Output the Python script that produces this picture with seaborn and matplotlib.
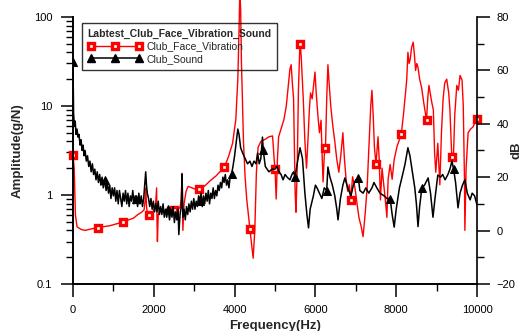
import matplotlib
matplotlib.use("Agg")
import matplotlib.pyplot as plt
from matplotlib.lines import Line2D
from matplotlib.ticker import MultipleLocator, NullFormatter
import seaborn as sns

# Club_Face_Vibration, amplitude (g/N), left log axis
red_freq = [0, 30, 60, 100, 200, 300, 400, 500, 625, 750, 900, 1050, 1250, 1400, 1500,
            1600, 1700, 1760, 1790, 1800, 1820, 1850, 1875, 1920, 1960, 2000, 2040, 2070,
            2080, 2090, 2110, 2150, 2250, 2350, 2500, 2600, 2650, 2680, 2700, 2720, 2750,
            2800, 2850, 2950, 3050, 3125, 3250, 3400, 3550, 3650, 3750, 3850, 3950, 4030,
            4080, 4110, 4130, 4150, 4170, 4190, 4220, 4260, 4300, 4350, 4375, 4420, 4460,
            4500, 4540, 4580, 4650, 4750, 4850, 4940, 4980, 5000, 5030, 5060, 5090, 5150,
            5220, 5280, 5330, 5370, 5400, 5430, 5460, 5500, 5520, 5550, 5580, 5610, 5625,
            5650, 5700, 5740, 5780, 5820, 5850, 5880, 5920, 5960, 5990, 6020, 6060, 6100,
            6140, 6170, 6190, 6220, 6250, 6280, 6310, 6340, 6380, 6430, 6480, 6530, 6580,
            6630, 6680, 6720, 6760, 6800, 6840, 6875, 6920, 6980, 7030, 7080, 7130, 7180,
            7230, 7280, 7330, 7370, 7400, 7430, 7460, 7500, 7550, 7580, 7610, 7650, 7700,
            7740, 7770, 7800, 7850, 7900, 7950, 8020, 8080, 8125, 8180, 8230, 8260, 8290,
            8320, 8350, 8380, 8420, 8450, 8480, 8510, 8540, 8580, 8630, 8680, 8710, 8750,
            8780, 8810, 8840, 8880, 8920, 8950, 8980, 9030, 9080, 9120, 9160, 9200, 9250,
            9300, 9330, 9375, 9420, 9450, 9500, 9540, 9580, 9630, 9660, 9690, 9700, 9730,
            9780, 9840, 9900, 9950, 10000]
red_amp = [2.8, 2.0, 0.6, 0.44, 0.41, 0.40, 0.41, 0.42, 0.43, 0.44, 0.45, 0.47, 0.50, 0.53, 0.55,
           0.60, 0.64, 0.68, 0.9, 1.2, 0.75, 0.55, 0.6, 0.58, 0.62, 0.68, 0.72, 1.2,
           0.5, 0.3, 0.6, 0.66, 0.64, 0.66, 0.68, 0.7, 0.72, 0.9, 1.75, 0.4, 0.8,
           1.1, 1.25, 1.2, 1.15, 1.17, 1.25, 1.45, 1.65, 1.85, 2.06, 2.7, 3.8, 7,
           20, 70, 200, 120, 30, 14, 4, 1.6, 0.9, 0.55, 0.42, 0.28, 0.195,
           0.4, 1.8, 3.4, 4.0, 4.2, 4.5, 4.6, 2.5, 1.95, 0.9, 2.5, 4.5, 5.5,
           7, 10, 17, 26, 29, 18, 12, 1.0, 0.64, 2, 15, 40, 50,
           35, 12, 4, 2, 4.5, 9, 14, 12, 18, 24, 14, 8, 5,
           6.9, 2.5, 1.4, 2.8, 3.4, 12, 29, 18, 10, 6, 4, 2.5, 1.8,
           2.8, 5, 2.5, 1.5, 1.1, 1.3, 0.88, 1.6, 1.2, 0.8, 0.55, 0.45, 0.34,
           0.6, 1.2, 4, 10, 15, 8, 3.5, 2.2, 4.5, 2.5, 0.88, 2, 1.2,
           0.8, 0.56, 1.5, 2.2, 1.5, 2.5, 3.5, 4.2, 4.8, 8, 14, 19.5, 40,
           30, 34, 45, 52, 38, 25, 30, 27, 20, 16, 11, 9, 6.9,
           12, 17, 14, 11, 9, 3, 1.8, 3.8, 1.3, 5, 11.8, 18, 20,
           14, 9, 2.7, 3, 8, 17, 15, 22, 19.5, 10, 1.5, 0.4, 2,
           5, 5.5, 5.8, 6.5, 7.1]
red_marker_freq = list(range(0, 10001, 625))

# Club_Sound, dB, right axis
black_freq = [0, 15, 35, 55, 75, 100, 125, 150, 175, 200, 225, 250, 275, 300, 330, 360, 390,
              420, 450, 480, 510, 540, 570, 600, 630, 660, 690, 720, 750, 785, 820, 850, 880,
              910, 940, 970, 1000, 1030, 1060, 1090, 1120, 1150, 1180, 1210, 1240, 1270, 1300,
              1330, 1360, 1390, 1420, 1450, 1480, 1510, 1540, 1570, 1600, 1630, 1660, 1690,
              1720, 1750, 1780, 1800, 1820, 1840, 1870, 1900, 1930, 1960, 1990, 2020, 2050,
              2080, 2110, 2140, 2170, 2200, 2230, 2260, 2290, 2320, 2355, 2390, 2420, 2450,
              2480, 2510, 2540, 2570, 2600, 2620, 2650, 2680, 2700, 2720, 2750, 2780, 2810,
              2840, 2870, 2900, 2930, 2960, 2990, 3020, 3050, 3080, 3110, 3140, 3170, 3200,
              3230, 3260, 3290, 3320, 3350, 3380, 3410, 3440, 3470, 3500, 3530, 3560, 3590,
              3620, 3650, 3680, 3710, 3740, 3770, 3800, 3830, 3860, 3890, 3925, 3960, 4000,
              4040, 4080, 4110, 4150, 4200, 4260, 4320, 4380, 4430, 4480, 4530, 4570, 4610,
              4650, 4690, 4710, 4760, 4850, 4930, 5000, 5050, 5100, 5150, 5200, 5250, 5300,
              5370, 5420, 5460, 5495, 5560, 5620, 5680, 5740, 5790, 5830, 5870, 5950, 6000,
              6040, 6100, 6160, 6220, 6280, 6310, 6360, 6420, 6480, 6530, 6560, 6620, 6680,
              6730, 6800, 6880, 6940, 7000, 7065, 7100, 7180, 7250, 7320, 7400, 7450, 7520,
              7600, 7700, 7770, 7850, 7900, 7950, 8000, 8080, 8160, 8220, 8290, 8340, 8400,
              8460, 8500, 8540, 8580, 8635, 8700, 8790, 8850, 8910, 8960, 9030, 9100, 9150,
              9210, 9280, 9330, 9380, 9420, 9470, 9530, 9580, 9640, 9700, 9760, 9830, 9880,
              9940, 10000]
black_db = [63, 44, 39, 41, 36, 38, 35, 36, 32, 34, 30, 32, 28, 30, 26, 28, 24,
            26, 22, 25, 21, 23, 19, 22, 18, 21, 17, 20, 16, 19, 15, 18, 14,
            17, 12, 16, 13, 16, 11, 15, 10, 15, 12, 9, 14, 11, 15,
            10, 14, 9, 13, 11, 15, 10, 13, 12, 9, 14, 10, 13,
            9, 12, 18, 22, 17, 14, 12, 9, 12, 8, 11, 7, 10,
            7, 11, 6, 9, 6, 10, 5, 8, 5, 8, 4, 8, 5,
            9, 3, 7, 4, 8, -1.5, 6, 9, 21, 5, 8, 4, 9,
            6, 10, 7, 11, 8, 12, 8, 11, 9, 13, 11, 14, 9,
            13, 10, 14, 11, 15, 10, 14, 12, 16, 12, 15, 13, 17,
            15, 18, 16, 20, 18, 21, 17, 19, 16, 20, 21, 24, 28,
            33, 38, 36, 31, 29, 27, 25, 26, 24, 26, 25, 29, 25,
            27, 35, 30, 24, 22, 23, 23, 24, 22, 21, 19, 21, 20,
            19, 21, 22, 20, 26, 31, 27, 14, 6, 1, 8, 13, 17,
            16, 14, 12, 16, 15, 23.8, 20, 17, 13, 8, 4, 12, 17,
            19.7, 16, 13, 17, 19, 19.5, 15, 14, 16, 14, 16, 18, 16,
            14, 13, 12, 12, 6, 1.3, 8, 16, 21, 25, 31, 28, 22,
            16, 10, 1.5, 9, 16, 17, 19.7, 14, 5, 12, 20.8, 20, 21,
            19, 21, 23, 26, 23, 18, 8.5, 14, 17, 19, 14, 11.5, 14,
            13, 9.6]
black_marker_freq = [0, 785, 1570, 2355, 3140, 3925, 4710, 5495, 6280, 7065, 7850, 8635, 9420]

red_marks = [i for i, f in enumerate(red_freq) if f in red_marker_freq]
black_marks = [i for i, f in enumerate(black_freq) if f in black_marker_freq]

sns.set_style("ticks")
plt.rcParams['font.family'] = ['Liberation Sans', 'DejaVu Sans']

fig = plt.figure(figsize=(5.22, 3.31), dpi=100)
ax = fig.add_axes([0.1398, 0.142, 0.774, 0.807])
ax2 = ax.twinx()

sq = dict(marker="s", markersize=4.2, markerfacecolor="white", markeredgecolor="red",
          markeredgewidth=2.4)
tri = dict(marker="^", markersize=5.2, markerfacecolor="black", markeredgecolor="black")

sns.lineplot(x=red_freq, y=red_amp, ax=ax, color="red", lw=1, markevery=red_marks,
             clip_on=False, errorbar=None, legend=False, **sq)
sns.lineplot(x=black_freq, y=black_db, ax=ax2, color="black", lw=1.1, markevery=black_marks,
             errorbar=None, legend=False, **tri)

ax.set_yscale("log")
ax.set_ylim(0.1, 100)
ax.set_xlim(0, 10000)
ax2.set_ylim(-20, 80)

ax.set_yticks([0.1, 1, 10, 100])
ax.set_yticklabels(["0.1", "1", "10", "100"])
ax.yaxis.set_minor_formatter(NullFormatter())
ax.xaxis.set_major_locator(MultipleLocator(2000))
ax.xaxis.set_minor_locator(MultipleLocator(1000))
ax2.yaxis.set_major_locator(MultipleLocator(20))
ax2.yaxis.set_minor_locator(MultipleLocator(10))

for a in (ax, ax2):
    a.spines["top"].set_visible(False)
    for s in a.spines.values():
        s.set_linewidth(1.2)
        s.set_color("black")
ax.spines["right"].set_visible(False)

ax.tick_params(axis="both", which="major", direction="out", length=9, width=1.1,
               labelsize=8, pad=6, colors="black")
ax.tick_params(axis="both", which="minor", direction="out", length=5, width=1, colors="black")
ax2.tick_params(axis="y", which="major", direction="out", length=9, width=1.1,
                labelsize=8, pad=5, colors="black")
ax2.tick_params(axis="y", which="minor", direction="out", length=5, width=1, colors="black")

ax.set_xlabel("Frequency(Hz)", fontsize=9.5, fontweight="bold")
ax.set_ylabel("Amplitude(g/N)", fontsize=9.5, fontweight="bold")
ax2.set_ylabel("dB", fontsize=9.5, fontweight="bold")
ax.xaxis.set_label_coords(0.5, -0.133)
ax.yaxis.set_label_coords(-0.121, 0.5)
ax2.yaxis.set_label_coords(1.082, 0.5)

handles = [
    Line2D([], [], color="red", lw=1, **sq),
    Line2D([], [], color="black", lw=1.1, **tri),
]
leg = ax2.legend(handles, ["Club_Face_Vibration", "Club_Sound"],
                 title="Labtest_Club_Face_Vibration_Sound", loc="upper left",
                 bbox_to_anchor=(0.022, 0.977), borderaxespad=0, numpoints=3,
                 handlelength=5.2, handletextpad=0.5, fontsize=7.5, labelspacing=0.25,
                 title_fontproperties={"weight": "bold", "size": 7.5}, alignment="left",
                 fancybox=False, edgecolor="black", facecolor="none", borderpad=0.55)
leg.get_frame().set_linewidth(1)

plt.savefig("out.png", dpi=100)
